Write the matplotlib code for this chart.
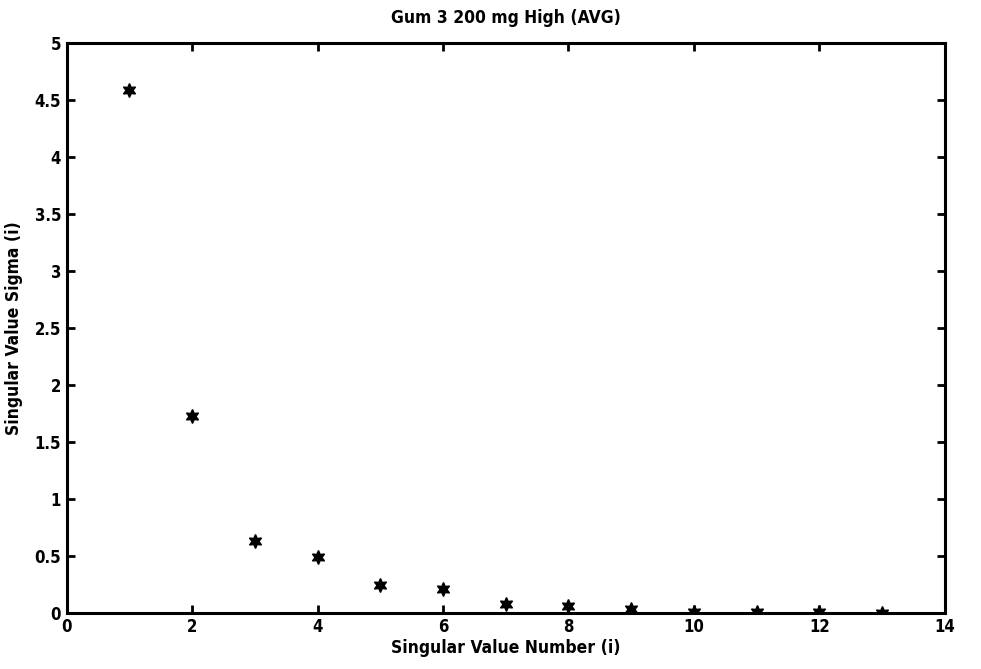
import numpy as np
import matplotlib.pyplot as plt

plt.rcParams['font.family'] = ['Liberation Sans Narrow', 'DejaVu Sans']
plt.rcParams['font.stretch'] = 'condensed'
plt.rcParams['font.weight'] = 'bold'

sv_num = [1, 2, 3, 4, 5, 6, 7, 8, 9, 10, 11, 12, 13]
sigma = [4.59, 1.73, 0.63, 0.49, 0.24, 0.21, 0.08, 0.06, 0.035, 0.008, 0.004, 0.003, 0.002]

fig = plt.figure(figsize=(9.81, 6.69), dpi=100)
ax = fig.add_axes([0.068, 0.084, 0.895, 0.851])
ax.plot(sv_num, sigma, linestyle='none', marker=(6, 1, 0), markersize=10,
        color='black')

ax.set_xlim(0, 14)
ax.set_ylim(0, 5)
ax.set_xticks(np.arange(0, 15, 2))
ax.set_yticks(np.arange(0, 5.01, 0.5))
ax.set_yticklabels(['0', '0.5', '1', '1.5', '2', '2.5', '3', '3.5', '4', '4.5', '5'])
ax.tick_params(direction='in', top=True, right=True, width=2, length=6,
               labelsize=12, pad=4)
for s in ax.spines.values():
    s.set_linewidth(2.2)

ax.set_xlabel('Singular Value Number (i)', fontsize=12.5, fontweight='bold', labelpad=2)
ax.set_ylabel('Singular Value Sigma (i)', fontsize=12.5, fontweight='bold', labelpad=8)
ax.set_title('Gum 3 200 mg High (AVG)', fontsize=12.5, fontweight='bold', pad=15)

fig.savefig('out.png', dpi=100)
